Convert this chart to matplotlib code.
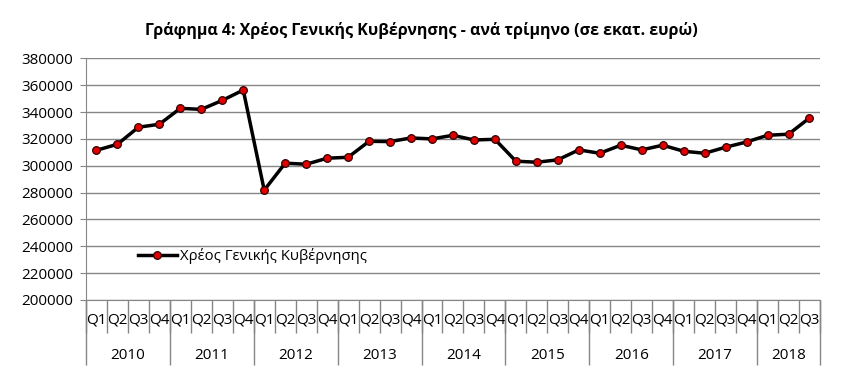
import numpy as np
import matplotlib as mpl
mpl.use("agg")
from matplotlib import pyplot as plt

plt.rcParams["font.family"] = ["Open Sans", "DejaVu Sans"]

years = ["2010", "2011", "2012", "2013", "2014", "2015", "2016", "2017", "2018"]
quartersPerYear = [4, 4, 4, 4, 4, 4, 4, 4, 3]
quarterLabels = ["Q1", "Q2", "Q3", "Q4"] * 8 + ["Q1", "Q2", "Q3"]
debt = [311500, 316000, 328700, 330900, 342800, 342000, 348700, 356400,
        281800, 301900, 301100, 305600, 306300, 318200, 318000, 320700,
        320000, 322700, 319200, 319700, 303400, 302600, 304400, 311800,
        309300, 315300, 311800, 315300, 310800, 309300, 313800, 317700,
        322700, 323500, 335600]
seriesName = "Χρέος Γενικής Κυβέρνησης"
title = "Γράφημα 4: Χρέος Γενικής Κυβέρνησης - ανά τρίμηνο (σε εκατ. ευρώ)"

gridColor = "#868686"

fig = plt.figure(figsize=(8.57, 3.92), dpi=100)
ax = fig.add_axes([0.1003, 0.235, 0.8565, 0.616])

x = np.arange(len(debt)) + 0.5
ax.plot(x, debt, color="black", lw=2.5, marker="o", markersize=5.5,
        markerfacecolor="#e00000", markeredgecolor="#300000", markeredgewidth=0.9,
        label=seriesName, zorder=3)

ax.set_xlim(0, len(debt))
ax.set_ylim(200000, 380000)
ax.set_yticks(np.arange(200000, 380001, 20000))
ax.yaxis.grid(True, color=gridColor, lw=1)
ax.set_axisbelow(True)
ax.tick_params(axis="y", length=4, color=gridColor, labelsize=11, pad=5)

for side in ["top", "right"]:
    ax.spines[side].set_visible(False)
ax.spines["left"].set_color(gridColor)
ax.spines["bottom"].set_color(gridColor)

# quarter labels and separators
ax.set_xticks(x)
ax.set_xticklabels(quarterLabels)
ax.tick_params(axis="x", length=0, labelsize=11, pad=9)
ax.set_xticks(np.arange(len(debt) + 1), minor=True)
ax.tick_params(axis="x", which="minor", length=24, color=gridColor, width=1)

# year separators and labels
yearEdges = np.concatenate([[0], np.cumsum(quartersPerYear)])
ax.vlines(yearEdges, -0.27, 0, transform=ax.get_xaxis_transform(),
          color=gridColor, lw=1, clip_on=False)
for i, year in enumerate(years):
    centre = (yearEdges[i] + yearEdges[i + 1]) / 2
    ax.text(centre, -0.23, year, transform=ax.get_xaxis_transform(),
            ha="center", va="center", fontsize=11)

ax.legend(loc="center left", bbox_to_anchor=(0.071, 0.182), frameon=False,
          borderaxespad=0, borderpad=0, handlelength=2.6, handletextpad=0.2,
          numpoints=1, fontsize=10.7)

fig.text(0.492, 0.922, title, ha="center", va="center", fontsize=11.5,
         fontweight="bold")

fig.savefig("out.png", dpi=100)
